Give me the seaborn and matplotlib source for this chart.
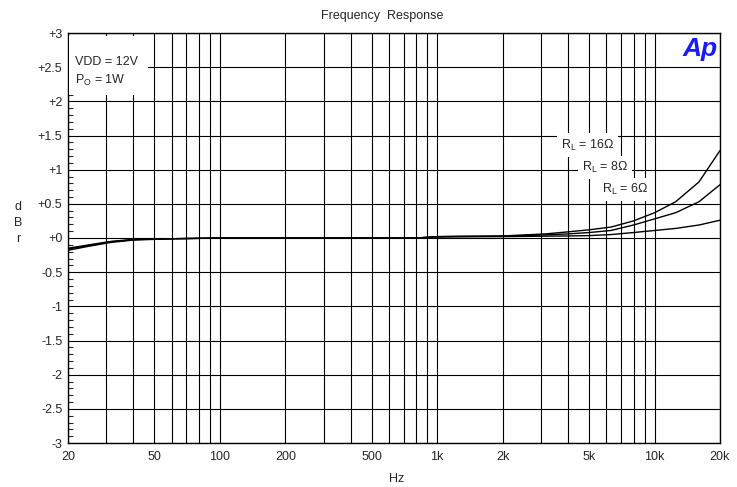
import numpy as np
import pandas as pd
import matplotlib
matplotlib.use("Agg")
import matplotlib.pyplot as plt
from matplotlib.ticker import FixedLocator, MultipleLocator
from matplotlib.patches import Rectangle
import seaborn as sns

# frequency points (Hz) of the sweep
freq = [20, 25, 31.5, 40, 50, 63, 80, 100, 200, 500, 800, 1000, 1250, 2000,
        3150, 4000, 5000, 6300, 8000, 10000, 12500, 16000, 20000]
# response in dBr for each load
r16 = [-0.15, -0.10, -0.05, -0.02, -0.015, -0.01, -0.005, 0.0, 0.0, 0.0, 0.0,
       0.02, 0.025, 0.03, 0.06, 0.09, 0.12, 0.16, 0.25, 0.37, 0.53, 0.82, 1.28]
r8 = [-0.16, -0.11, -0.055, -0.025, -0.015, -0.01, -0.005, 0.0, 0.0, 0.0, 0.0,
      0.02, 0.022, 0.027, 0.045, 0.06, 0.08, 0.11, 0.19, 0.28, 0.37, 0.53, 0.78]
r6 = [-0.18, -0.12, -0.065, -0.03, -0.02, -0.01, -0.005, 0.0, 0.0, 0.0, 0.0,
      0.015, 0.018, 0.02, 0.027, 0.03, 0.035, 0.05, 0.08, 0.11, 0.14, 0.19, 0.26]
loads = ["16", "8", "6"]

xtick_vals = [20, 50, 100, 200, 500, 1000, 2000, 5000, 10000, 20000]
xtick_labels = ["20", "50", "100", "200", "500", "1k", "2k", "5k", "10k", "20k"]
ytick_vals = [3, 2.5, 2, 1.5, 1, 0.5, 0, -0.5, -1, -1.5, -2, -2.5, -3]
ytick_labels = ["+3", "+2.5", "+2", "+1.5", "+1", "+0.5", "+0", "-0.5", "-1",
                "-1.5", "-2", "-2.5", "-3"]

df = pd.DataFrame({
    "Hz": freq * 3,
    "dBr": r16 + r8 + r6,
    "load": [l for l in loads for _ in freq],
})

sns.set_style("white")
plt.rcParams['font.family'] = ['Liberation Sans', 'DejaVu Sans']
plt.rcParams['mathtext.fontset'] = 'custom'
plt.rcParams['mathtext.rm'] = 'Liberation Sans'
fs = 9

fig = plt.figure(figsize=(7.37, 4.87), dpi=100)
ax = fig.add_axes([68 / 737, 1 - 443 / 487, 652 / 737, 410 / 487])

sns.lineplot(data=df, x="Hz", y="dBr", hue="load", palette=["black"] * 3,
             linewidth=1.0, legend=False, ax=ax, zorder=5)

ax.set_xscale("log")
ax.set_xlim(20, 20000)
ax.set_ylim(-3, 3)

# vertical grid at every 1..9 multiple
minor_x = [m * 10 ** e for e in range(1, 5) for m in range(1, 10)]
minor_x = [v for v in minor_x if 20 <= v <= 20000]
ax.xaxis.set_major_locator(FixedLocator(xtick_vals))
ax.set_xticklabels(xtick_labels)
ax.xaxis.set_minor_locator(FixedLocator(minor_x))
ax.xaxis.set_minor_formatter(plt.NullFormatter())
ax.set_yticks(ytick_vals)
ax.set_yticklabels(ytick_labels)
ax.yaxis.set_minor_locator(MultipleLocator(0.1))

ax.xaxis.grid(True, which="both", color="black", linewidth=0.8)
ax.yaxis.grid(True, which="major", color="black", linewidth=0.8)
ax.set_axisbelow(True)

ax.tick_params(axis="x", which="both", length=0, pad=6, labelsize=fs)
ax.tick_params(axis="y", which="major", length=0, pad=4, labelsize=fs)
ax.tick_params(axis="y", which="minor", direction="in", length=3.6,
               width=0.8, left=True, right=False)
for s in ax.spines.values():
    s.set_color("black")
    s.set_linewidth(1.0)

ax.set_xlabel("")
ax.set_ylabel("")
fig.text(397 / 737, 1 - 479 / 487, "Hz", ha="center", va="center", fontsize=fs)
fig.text(18 / 737, 1 - 223 / 487, "d\nB\nr", ha="center", va="center",
         fontsize=fs, linespacing=1.4)
fig.text(382 / 737, 1 - 16 / 487, "Frequency  Response", ha="center",
         va="center", fontsize=fs)

# white panel behind the test conditions
ax.add_patch(Rectangle((0.002, 0.849), 0.121, 0.144, transform=ax.transAxes,
                       facecolor="white", edgecolor="none", zorder=3))
ax.text(21.5, 2.58, "VDD = 12V", fontsize=fs, va="center", ha="left", zorder=4)
ax.text(21.5, 2.31, "P$_\\mathregular{O}$ = 1W", fontsize=fs, va="center",
        ha="left", zorder=4)

box = dict(facecolor="white", edgecolor="none", pad=3)
ax.text(3700, 1.36, "R$_\\mathregular{L}$ = 16Ω", fontsize=fs, va="center",
        ha="left", bbox=box, zorder=4)
ax.text(4630, 1.03, "R$_\\mathregular{L}$ = 8Ω", fontsize=fs, va="center",
        ha="left", bbox=box, zorder=4)
ax.text(5710, 0.71, "R$_\\mathregular{L}$ = 6Ω", fontsize=fs, va="center",
        ha="left", bbox=box, zorder=4)
ax.text(0.997, 0.99, "Ap", transform=ax.transAxes, ha="right", va="top",
        fontsize=19, fontweight="bold", fontstyle="italic", color="#1a1aff",
        zorder=6)

fig.savefig("out.png", dpi=100)
